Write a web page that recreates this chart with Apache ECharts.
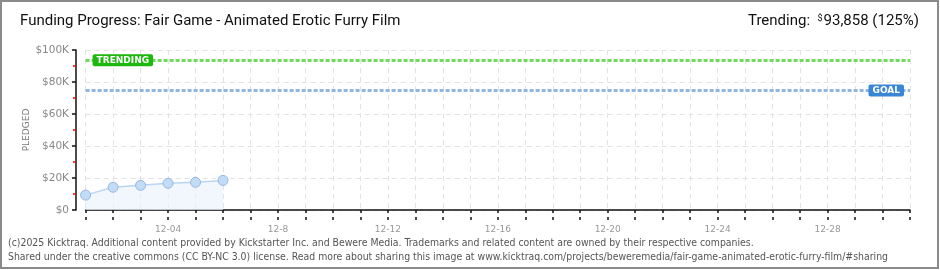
<!DOCTYPE html>
<html><head><meta charset="utf-8">
<script src="https://cdn.jsdelivr.net/npm/echarts@6/dist/echarts.min.js"></script>
<style>html,body{margin:0;padding:0;background:#fff}#c{width:940px;height:270px}</style>
</head><body><div id="c"></div>
<script>
var days = ['12-01','12-02','12-03','12-04','12-05','12-06','12-07','12-08','12-09','12-10',
  '12-11','12-12','12-13','12-14','12-15','12-16','12-17','12-18','12-19','12-20',
  '12-21','12-22','12-23','12-24','12-25','12-26','12-27','12-28','12-29','12-30','12-31'];
var pledged = [9300, 14200, 15400, 16700, 17300, 18500];
var trending = 93858;
var goal = 75000;
var xTickDays = ['12-04','12-08','12-12','12-16','12-20','12-24','12-28'];
var xTickLabels = ['12-04','12-8','12-12','12-16','12-20','12-24','12-28'];
var yTickLabels = ['$0','$20K','$40K','$60K','$80K','$100K'];

var chart = echarts.init(document.getElementById('c'), null, {renderer:'canvas'});
var labFont = '"DejaVu Sans", sans-serif';
var footFont = '10.4px "Liberation Sans Narrow", "DejaVu Sans Condensed", sans-serif';
var xAxisBase = {
  type:'category', data: days, boundaryGap:false, position:'bottom', offset:10
};
chart.setOption({
  animation:false,
  grid:{left:85.6, right:30, top:50, bottom:60},
  graphic:[
    {type:'rect', shape:{x:1,y:1,width:937,height:267}, style:{fill:'none', stroke:'#8a8a8a', lineWidth:2}, z:100},
    {type:'text', left:20, top:14, style:{text:'Funding Progress: Fair Game - Animated Erotic Furry Film', font:'15px Roboto, sans-serif', fill:'#111'}},
    {type:'text', right:21, top:14, style:{
      text:'{a|Trending:  }{s|$}{a|93,858 (125%)}',
      rich:{a:{font:'15px Roboto, sans-serif', fill:'#111'}, s:{font:'9px Roboto, sans-serif', fill:'#111', verticalAlign:'top', padding:[0,1,6,0]}}
    }},
    {type:'text', left:8, top:238, style:{text:'(c)2025 Kicktraq. Additional content provided by Kickstarter Inc. and Bewere Media. Trademarks and related content are owned by their respective companies.', font:footFont, fill:'#555'}},
    {type:'text', left:8, top:252, style:{text:'Shared under the creative commons (CC BY-NC 3.0) license. Read more about sharing this image at www.kicktraq.com/projects/beweremedia/fair-game-animated-erotic-furry-film/#sharing', font:footFont, fill:'#555'}},
    {type:'text', x:27, y:130, rotation:Math.PI/2, style:{text:'PLEDGED', font:'9px '+labFont, fill:'#7a7a7a', align:'center', verticalAlign:'middle'}}
  ],
  xAxis:[
    Object.assign({}, xAxisBase, {
      axisLine:{show:true, lineStyle:{color:'#111', width:1.5}},
      axisTick:{show:true, length:3, interval:0, lineStyle:{color:'#111', width:1.5}},
      axisLabel:{show:true, margin:5, color:'#999', fontSize:9, fontFamily:labFont,
        interval:function(i, v){ return xTickDays.indexOf(v) >= 0; },
        formatter:function(v){ var k = xTickDays.indexOf(v); return k>=0 ? xTickLabels[k] : ''; }},
      splitLine:{show:true, interval:0, lineStyle:{color:'#e3e3e3', type:[5,4], width:1}}
    }),
    Object.assign({}, xAxisBase, {
      axisLine:{show:false},
      axisTick:{show:true, inside:true, length:3, interval:0, lineStyle:{color:'#111', width:1.5}},
      axisLabel:{show:false}, splitLine:{show:false}
    })
  ],
  yAxis:{
    type:'value', min:0, max:100000, interval:20000, offset:9.6,
    axisLine:{show:true, lineStyle:{color:'#111', width:1.5}},
    axisTick:{show:true, length:4, lineStyle:{color:'#111', width:1.5}},
    minorTick:{show:true, splitNumber:2, length:3, lineStyle:{color:'#e00', width:1.5}},
    axisLabel:{margin:7, color:'#888', fontSize:10.5, fontFamily:labFont,
      formatter:function(v){ return yTickLabels[Math.round(v/20000)]; }},
    splitLine:{show:true, lineStyle:{color:'#e3e3e3', type:[5,4], width:1}}
  },
  series:[{
    type:'line', data:pledged, xAxisIndex:0,
    symbol:'circle', symbolSize:10,
    itemStyle:{color:'#c2dbf6', borderColor:'#96b6de', borderWidth:1},
    lineStyle:{color:'#b9d5f3', width:1.5},
    areaStyle:{color:'#edf4fd'},
    markLine:{
      silent:true, symbol:['none','none'],
      data:[
        {yAxis:trending, lineStyle:{color:'#72d860', type:[4,2], width:3},
          label:{show:true, position:'insideStartTop', distance:[7,-6.5], formatter:'TRENDING', color:'#fff',
            backgroundColor:'#1cb80d', padding:[2,4,1,4], borderRadius:2, fontSize:9, fontWeight:'bold', fontFamily:labFont}},
        {yAxis:goal, lineStyle:{color:'#93b6de', type:[4,2], width:3},
          label:{show:true, position:'insideEndTop', distance:[6,-6.5], formatter:'GOAL', color:'#fff',
            backgroundColor:'#3a86d6', padding:[2,4,1,4], borderRadius:2, fontSize:9, fontWeight:'bold', fontFamily:labFont}}
      ]
    }
  }]
});
</script></body></html>
